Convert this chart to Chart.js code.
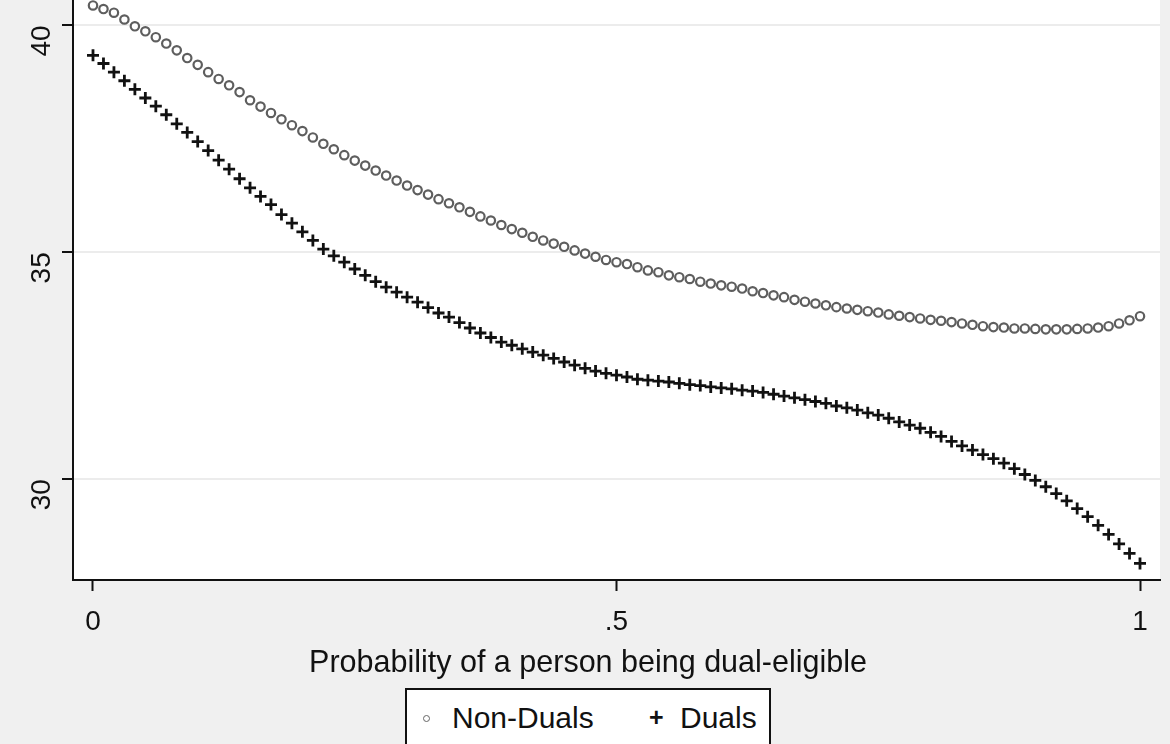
<!DOCTYPE html>
<html lang="en">
<head>
    <meta charset="UTF-8">
    <title>Dual-eligibility chart</title>
    <script src="https://cdn.jsdelivr.net/npm/chart.js"></script>
    <style>
        html, body { margin: 0; padding: 0; background: #f0f0f0; }
        #wrap { position: relative; width: 1170px; height: 744px; overflow: hidden; }
        #xTitle {
            position: absolute; left: 3px; top: 644px; width: 1170px; text-align: center;
            font-family: "Liberation Sans", Arial, sans-serif; font-size: 30.5px; color: #111;
        }
        #legendBox {
            position: absolute; left: 405px; top: 688px; width: 366px; height: 80px;
            background: #fff; border: 2px solid #111; box-sizing: border-box;
            font-family: "Liberation Sans", Arial, sans-serif; font-size: 30px; color: #111;
        }
        #legendBox span { position: absolute; top: 11px; }
        .mk-circle { position: absolute; left: 16px; top: 25px; width: 5px; height: 5px;
            border: 1.6px solid #666; border-radius: 50%; }
        .mk-plus { position: absolute; left: 242px; top: 13px; font-weight: bold; font-size: 25px; }
    </style>
</head>
<body>
<div id="wrap">
    <canvas id="probChart" width="1170" height="744"></canvas>
    <div id="xTitle">Probability of a person being dual-eligible</div>
    <div id="legendBox">
        <div class="mk-circle"></div>
        <span style="left:45px">Non-Duals</span>
        <div class="mk-plus">+</div>
        <span style="left:273px">Duals</span>
    </div>
</div>

<script>
    // probability of being dual-eligible (x)
    const probs = [0, 0.01, 0.02, 0.03, 0.04, 0.05, 0.06, 0.07, 0.08, 0.09,
        0.10, 0.11, 0.12, 0.13, 0.14, 0.15, 0.16, 0.17, 0.18, 0.19,
        0.20, 0.21, 0.22, 0.23, 0.24, 0.25, 0.26, 0.27, 0.28, 0.29,
        0.30, 0.31, 0.32, 0.33, 0.34, 0.35, 0.36, 0.37, 0.38, 0.39,
        0.40, 0.41, 0.42, 0.43, 0.44, 0.45, 0.46, 0.47, 0.48, 0.49,
        0.50, 0.51, 0.52, 0.53, 0.54, 0.55, 0.56, 0.57, 0.58, 0.59,
        0.60, 0.61, 0.62, 0.63, 0.64, 0.65, 0.66, 0.67, 0.68, 0.69,
        0.70, 0.71, 0.72, 0.73, 0.74, 0.75, 0.76, 0.77, 0.78, 0.79,
        0.80, 0.81, 0.82, 0.83, 0.84, 0.85, 0.86, 0.87, 0.88, 0.89,
        0.90, 0.91, 0.92, 0.93, 0.94, 0.95, 0.96, 0.97, 0.98, 0.99, 1.00];

    const nonDuals = [40.44, 40.36, 40.28, 40.13, 39.98, 39.87, 39.74, 39.60, 39.45, 39.28,
        39.13, 38.97, 38.82, 38.68, 38.53, 38.35, 38.21, 38.07, 37.93, 37.80,
        37.67, 37.53, 37.39, 37.27, 37.14, 37.02, 36.91, 36.80, 36.69, 36.58,
        36.47, 36.37, 36.27, 36.17, 36.08, 35.99, 35.89, 35.79, 35.70, 35.60,
        35.51, 35.43, 35.34, 35.26, 35.19, 35.12, 35.04, 34.97, 34.90, 34.83,
        34.78, 34.74, 34.67, 34.60, 34.56, 34.49, 34.45, 34.41, 34.35, 34.31,
        34.27, 34.24, 34.20, 34.14, 34.10, 34.05, 34.01, 33.95, 33.91, 33.87,
        33.83, 33.79, 33.76, 33.73, 33.70, 33.67, 33.63, 33.60, 33.57, 33.54,
        33.51, 33.49, 33.46, 33.43, 33.40, 33.37, 33.35, 33.34, 33.32, 33.32,
        33.31, 33.30, 33.30, 33.30, 33.31, 33.32, 33.34, 33.37, 33.43, 33.50, 33.59];

    const duals = [39.34, 39.16, 38.97, 38.78, 38.59, 38.40, 38.22, 38.03, 37.83, 37.64,
        37.44, 37.24, 37.03, 36.83, 36.62, 36.42, 36.23, 36.05, 35.83, 35.64,
        35.45, 35.26, 35.07, 34.92, 34.78, 34.63, 34.49, 34.35, 34.23, 34.12,
        34.01, 33.90, 33.78, 33.66, 33.57, 33.45, 33.33, 33.22, 33.12, 33.02,
        32.95, 32.87, 32.80, 32.73, 32.66, 32.58, 32.51, 32.44, 32.38, 32.33,
        32.29, 32.25, 32.20, 32.18, 32.16, 32.14, 32.11, 32.08, 32.06, 32.03,
        32.01, 31.99, 31.96, 31.94, 31.91, 31.87, 31.83, 31.79, 31.75, 31.71,
        31.67, 31.61, 31.57, 31.52, 31.46, 31.41, 31.34, 31.26, 31.19, 31.12,
        31.03, 30.94, 30.83, 30.73, 30.64, 30.54, 30.45, 30.35, 30.23, 30.10,
        29.97, 29.83, 29.68, 29.52, 29.35, 29.17, 28.98, 28.78, 28.57, 28.36, 28.14];

    const xTicks = [0, 0.5, 1];
    const xTickLabels = ['0', '.5', '1'];
    const yTicks = [30, 35, 40];

    const FONT = '"Liberation Sans", Arial, sans-serif';

    // white plot region on grey page; the original is cropped at the top,
    // so the white area and the left axis run up to the edge
    const plotBg = {
        id: 'plotBg',
        beforeDraw(chart) {
            const { ctx, chartArea: a } = chart;
            ctx.save();
            ctx.fillStyle = '#ffffff';
            ctx.fillRect(a.left, 0, a.right - a.left, a.bottom);
            ctx.restore();
        },
        afterDraw(chart) {
            const { ctx, chartArea: a } = chart;
            ctx.save();
            ctx.strokeStyle = '#111';
            ctx.lineWidth = 2;
            ctx.beginPath();
            ctx.moveTo(a.left, 0);
            ctx.lineTo(a.left, a.top + 1);
            ctx.stroke();
            ctx.restore();
        }
    };

    const ctx = document.getElementById('probChart').getContext('2d');
    new Chart(ctx, {
        type: 'scatter',
        data: {
            datasets: [
                {
                    label: 'Non-Duals',
                    data: probs.map((p, i) => ({ x: p, y: nonDuals[i] })),
                    pointStyle: 'circle',
                    pointRadius: 4.2,
                    pointBorderWidth: 2.2,
                    pointBorderColor: '#5e5e5e',
                    pointBackgroundColor: '#ffffff',
                    showLine: false,
                    clip: false
                },
                {
                    label: 'Duals',
                    data: probs.map((p, i) => ({ x: p, y: duals[i] })),
                    pointStyle: 'cross',
                    pointRadius: 6,
                    pointBorderWidth: 2.8,
                    pointBorderColor: '#111111',
                    showLine: false,
                    clip: false
                }
            ]
        },
        options: {
            responsive: false,
            animation: false,
            layout: { padding: { top: 0, right: 10, bottom: 0, left: 0 } },
            plugins: {
                legend: { display: false },
                tooltip: { enabled: false }
            },
            scales: {
                x: {
                    type: 'linear',
                    min: -0.0191,
                    max: 1.0191,
                    afterBuildTicks: s => { s.ticks = xTicks.map(v => ({ value: v })); },
                    afterFit: s => { s.height = 164; s.paddingLeft = 0; s.paddingRight = 0; },
                    ticks: {
                        callback: v => xTickLabels[xTicks.indexOf(v)],
                        font: { family: FONT, size: 28 },
                        color: '#111',
                        padding: 14,
                        maxRotation: 0
                    },
                    grid: { drawOnChartArea: false, tickLength: 11, tickColor: '#111', tickWidth: 2 },
                    border: { color: '#111', width: 2 }
                },
                y: {
                    min: 27.775,
                    max: 40.366,
                    afterBuildTicks: s => { s.ticks = yTicks.map(v => ({ value: v })); },
                    afterFit: s => { s.width = 73; s.paddingTop = 0; s.paddingBottom = 0; },
                    ticks: {
                        font: { family: FONT, size: 28 },
                        color: '#111',
                        minRotation: 90,
                        maxRotation: 90,
                        padding: 20
                    },
                    grid: { color: '#ececec', lineWidth: 2, tickLength: 11, tickColor: '#111', tickWidth: 2 },
                    border: { color: '#111', width: 2 }
                }
            }
        },
        plugins: [plotBg]
    });
</script>
</body>
</html>
